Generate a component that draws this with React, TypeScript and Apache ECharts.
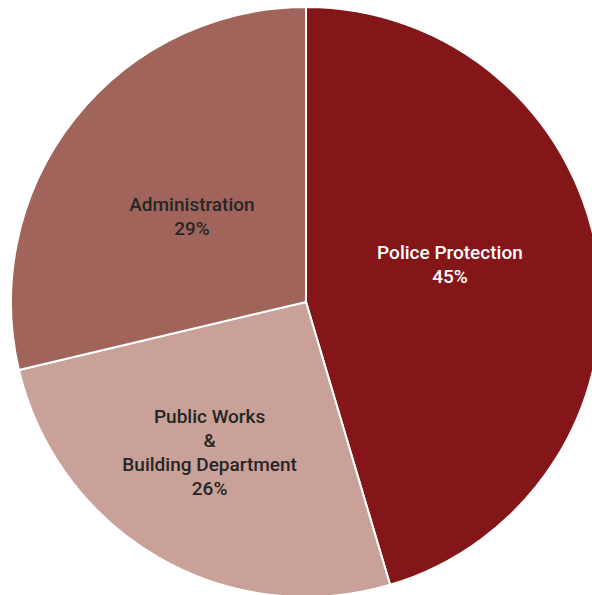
import React, { useEffect, useRef } from "react";
import * as echarts from "echarts";

const categories = ["Police Protection", "Public Works\n&\nBuilding Department", "Administration"];
const values = [45.4, 25.9, 28.7];
const colors = ["#84161A", "#C9A199", "#A0645A"];
const labelColors = ["#FFFFFF", "#262626", "#262626"];
const labelShift = [
  [-5, -16],
  [-21, 20],
  [4, 8],
];

export default function App() {
  const ref = useRef<HTMLDivElement>(null);
  useEffect(() => {
    const chart = echarts.init(ref.current!, null, { renderer: "svg" });
    chart.setOption({
      animation: false,
      backgroundColor: "#FFFFFF",
      series: [
        {
          type: "pie",
          center: [306, 302],
          radius: 295,
          startAngle: 90,
          clockwise: true,
          avoidLabelOverlap: false,
          itemStyle: { borderColor: "#FFFFFF", borderWidth: 2 },
          label: {
            show: true,
            position: "inside",
            formatter: (p: any) => `${p.name}\n${Math.round(p.value)}%`,
            fontFamily: "Roboto, Liberation Sans, Arial, sans-serif",
            fontWeight: 500,
            fontSize: 19,
            lineHeight: 24,
            align: "center",
          },
          labelLine: { show: false },
          labelLayout: (p: any) => ({ dx: labelShift[p.dataIndex][0], dy: labelShift[p.dataIndex][1] }),
          data: categories.map((c, i) => ({
            name: c,
            value: values[i],
            itemStyle: { color: colors[i] },
            label: { color: labelColors[i] },
          })),
        },
      ],
    });
    return () => chart.dispose();
  }, []);
  return (
    <div
      ref={ref}
      style={{ position: "absolute", left: 0, top: 0, width: 592, height: 595 }}
    />
  );
}
